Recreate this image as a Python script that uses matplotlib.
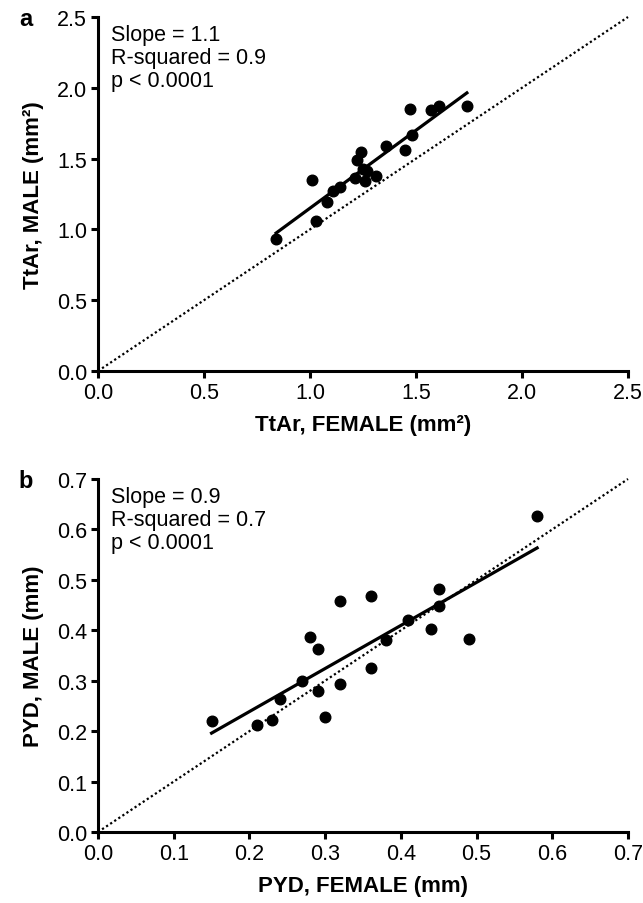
import matplotlib
matplotlib.use("Agg")
import matplotlib.pyplot as plt
import numpy as np

plt.rcParams['font.family'] = ['Liberation Sans', 'DejaVu Sans']

# Panel a: TtAr (mm^2)
ttar_female = [0.84, 1.01, 1.03, 1.08, 1.11, 1.14, 1.21, 1.22, 1.24, 1.25,
               1.27, 1.26, 1.31, 1.36, 1.45, 1.47, 1.48, 1.57, 1.61, 1.74]
ttar_male = [0.93, 1.35, 1.06, 1.19, 1.27, 1.30, 1.36, 1.49, 1.55, 1.43,
             1.41, 1.34, 1.38, 1.59, 1.56, 1.85, 1.67, 1.84, 1.87, 1.87]
fit_a = (1.10, 0.05)  # slope, intercept
text_a = "Slope = 1.1\nR-squared = 0.9\np < 0.0001"

# Panel b: PYD (mm)
pyd_female = [0.15, 0.21, 0.23, 0.24, 0.27, 0.28, 0.29, 0.29, 0.30, 0.32,
              0.32, 0.36, 0.36, 0.38, 0.41, 0.44, 0.45, 0.45, 0.49, 0.58]
pyd_male = [0.22, 0.213, 0.222, 0.264, 0.299, 0.386, 0.362, 0.279, 0.229, 0.458,
            0.293, 0.467, 0.326, 0.381, 0.420, 0.402, 0.481, 0.449, 0.382, 0.626]
fit_b = (0.854, 0.068)
text_b = "Slope = 0.9\nR-squared = 0.7\np < 0.0001"

ticks_a = [0.0, 0.5, 1.0, 1.5, 2.0, 2.5]
ticks_b = [0.0, 0.1, 0.2, 0.3, 0.4, 0.5, 0.6, 0.7]

W, H = 643, 904
fig = plt.figure(figsize=(W / 100, H / 100), dpi=100)

left = 98 / W
width = (628 - 98) / W
ax_a = fig.add_axes([left, 1 - 372 / H, width, (372 - 18) / H])
ax_b = fig.add_axes([left, 1 - 833 / H, width, (833 - 480) / H])

FS = 15.5
FL = 16


def style(ax, ticks, fmt):
    lim = (ticks[0], ticks[-1])
    ax.set_xlim(lim)
    ax.set_ylim(lim)
    ax.set_xticks(ticks)
    ax.set_yticks(ticks)
    ax.set_xticklabels([fmt.format(t) for t in ticks])
    ax.set_yticklabels([fmt.format(t) for t in ticks])
    for s in ['top', 'right']:
        ax.spines[s].set_visible(False)
    for s in ['left', 'bottom']:
        ax.spines[s].set_linewidth(2.2)
    ax.tick_params(direction='out', length=5, width=2.2, labelsize=FS, pad=3)


def panel(ax, x, y, fit, txt, ticks, xlabel, ylabel, letter):
    style(ax, ticks, "{:.1f}")
    lim = ticks[-1]
    ax.plot([0, lim], [0, lim], linestyle=(0, (1, 1.2)), color='black',
            lw=1.6, clip_on=False, zorder=2)
    xs = np.array([min(x), max(x)])
    ax.plot(xs, fit[0] * xs + fit[1], color='black', lw=2.3, zorder=3)
    ax.scatter(x, y, s=58, color='black', zorder=4, clip_on=False)
    ax.text(0.025, 0.98, txt, transform=ax.transAxes, ha='left', va='top',
            fontsize=FS, linespacing=1.12)
    ax.set_xlabel(xlabel, fontsize=FL, fontweight='bold', labelpad=8)
    ax.set_ylabel(ylabel, fontsize=FL, fontweight='bold', labelpad=9)
    ax.text(-0.137, 0.995, letter, transform=ax.transAxes, ha='center',
            va='center', fontsize=17, fontweight='bold')


panel(ax_a, ttar_female, ttar_male, fit_a, text_a, ticks_a,
      "TtAr, FEMALE (mm²)", "TtAr, MALE (mm²)", "a")
panel(ax_b, pyd_female, pyd_male, fit_b, text_b, ticks_b,
      "PYD, FEMALE (mm)", "PYD, MALE (mm)", "b")

fig.savefig("out.png", dpi=100)
